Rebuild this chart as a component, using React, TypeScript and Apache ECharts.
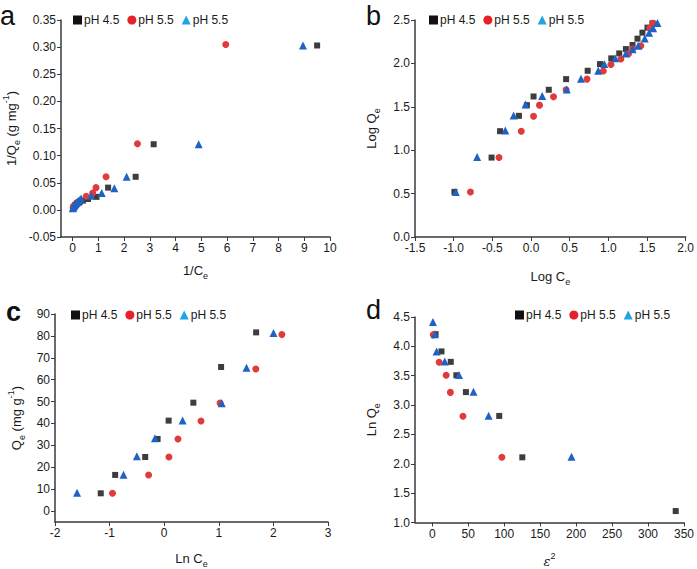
import React, { useEffect, useRef } from "react";
import * as echarts from "echarts";

const seriesNames = ["pH 4.5", "pH 5.5", "pH 5.5 "];

// Panel a: 1/Ce vs 1/Qe
const aPH45: number[][] = [[0.02,0.004],[0.05,0.006],[0.1,0.009],[0.18,0.012],[0.27,0.014],[0.4,0.017],[0.6,0.02],[0.93,0.024],[1.38,0.041],[2.45,0.061],[3.15,0.121],[9.5,0.303]];
const aPH55: number[][] = [[0.02,0.004],[0.06,0.007],[0.1,0.01],[0.16,0.013],[0.25,0.016],[0.53,0.025],[0.78,0.031],[0.91,0.041],[1.3,0.061],[2.52,0.122],[5.95,0.305]];
const aPH55b: number[][] = [[0.01,0.003],[0.03,0.005],[0.05,0.007],[0.08,0.009],[0.11,0.011],[0.15,0.013],[0.2,0.015],[0.26,0.018],[0.33,0.021],[0.72,0.026],[1.13,0.031],[1.62,0.04],[2.1,0.061],[4.9,0.121],[8.95,0.303]];

// Panel b: Log Ce vs Log Qe
const bPH45: number[][] = [[-0.99,0.52],[-0.51,0.915],[-0.4,1.219],[-0.156,1.396],[-0.053,1.519],[0.033,1.619],[0.23,1.696],[0.454,1.819],[0.733,1.915],[0.892,1.992],[1.038,2.058],[1.141,2.115],[1.227,2.165],[1.313,2.212],[1.377,2.285],[1.441,2.354],[1.506,2.412],[1.57,2.462]];
const bPH55: number[][] = [[-0.783,0.519],[-0.414,0.915],[-0.126,1.219],[0.033,1.392],[0.11,1.519],[0.291,1.615],[0.454,1.696],[0.724,1.819],[0.935,1.912],[1.034,1.988],[1.162,2.05],[1.261,2.112],[1.313,2.165],[1.42,2.204],[1.536,2.408],[1.579,2.462]];
const bPH55b: number[][] = [[-0.972,0.519],[-0.697,0.923],[-0.332,1.227],[-0.225,1.4],[-0.07,1.527],[0.145,1.623],[0.462,1.7],[0.647,1.823],[0.87,1.915],[0.948,1.992],[1.089,2.058],[1.227,2.115],[1.313,2.162],[1.386,2.204],[1.471,2.288],[1.527,2.354],[1.579,2.404],[1.635,2.465]];

// Panel c: Ln Ce vs Qe
const cPH45: number[][] = [[-1.162,8.1],[-0.898,16.5],[-0.348,24.7],[-0.121,32.9],[0.081,41.3],[0.534,49.5],[1.042,65.8],[1.684,81.6]];
const cPH55: number[][] = [[-0.947,8.1],[-0.286,16.5],[0.087,24.7],[0.252,32.9],[0.674,41.1],[1.023,49.3],[1.678,64.9],[2.155,80.6]];
const cPH55b: number[][] = [[-1.596,8.4],[-0.745,16.6],[-0.501,25.0],[-0.17,33.2],[0.338,41.4],[1.054,49.2],[1.507,65.5],[2.002,81.3]];

// Panel d: epsilon^2 vs Ln Qe
const dPH45: number[][] = [[4.6,4.207],[12.8,3.914],[25.7,3.736],[33.5,3.508],[46.8,3.221],[93.1,2.815],[125.2,2.11],[338.5,1.195]];
const dPH55: number[][] = [[1.4,4.196],[9.6,3.73],[19.3,3.508],[25.2,3.216],[42.7,2.81],[96.8,2.11]];
const dPH55b: number[][] = [[0.9,4.413],[3.7,4.207],[6.0,3.914],[17.4,3.741],[37.2,3.514],[57.3,3.226],[78.4,2.82],[193.6,2.121]];

const aXTicks = [0,1,2,3,4,5,6,7,8,9,10];
const cYTicks = [0,10,20,30,40,50,60,70,80,90];
const dXTicks = [0,50,100,150,200,250,300,350];

const FONT = "Liberation Sans, Arial, sans-serif";
const AXIS_COLOR = "#3a3a3a";
const LABEL_COLOR = "#1a1a1a";
const dataColors = ["#3d3d3d", "#e03a3a", "#1f62c6"];
const legendColors = ["#111111", "#e8202a", "#1ea3e4"];
const symbols = ["rect", "circle", "triangle"];
const symbolSizes = [6, 7, 8];

const rich = {
  n: { fontSize: 13, lineHeight: 20, fontFamily: FONT, color: LABEL_COLOR, verticalAlign: "middle" },
  sub: { fontSize: 9, lineHeight: 9, fontFamily: FONT, color: LABEL_COLOR, verticalAlign: "bottom" },
  sup: { fontSize: 9, lineHeight: 9, fontFamily: FONT, color: LABEL_COLOR, verticalAlign: "top" },
  eps: { fontSize: 13, lineHeight: 20, fontFamily: "DejaVu Serif, serif", fontStyle: "italic", color: LABEL_COLOR, verticalAlign: "middle" },
};

function baseAxis(extra: any) {
  return {
    type: "value",
    splitLine: { show: false },
    axisLine: { show: true, onZero: false, lineStyle: { color: AXIS_COLOR, width: 1.5 } },
    axisTick: { show: true, length: 4, lineStyle: { color: AXIS_COLOR, width: 1 } },
    axisLabel: { color: LABEL_COLOR, fontSize: 12, fontFamily: FONT, margin: 5 },
    nameLocation: "middle",
    nameTextStyle: { rich },
    ...extra,
  };
}

export default function App() {
  const ref = useRef<HTMLDivElement>(null);
  useEffect(() => {
    if (!ref.current) return;
    const chart = echarts.init(ref.current, undefined, { renderer: "svg" });

    const grids = [
      { left: 58, top: 20, width: 272, height: 217 },
      { left: 415, top: 20, width: 271, height: 217 },
      { left: 55, top: 314, width: 273, height: 216 },
      { left: 415, top: 317, width: 271, height: 215 },
    ];

    const xAxes = [
      baseAxis({
        gridIndex: 0, min: -0.45, max: 10,
        axisLabel: { color: LABEL_COLOR, fontSize: 12, fontFamily: FONT, margin: 5, customValues: aXTicks },
        axisTick: { show: true, length: 4, customValues: aXTicks, lineStyle: { color: AXIS_COLOR } },
        name: "{n|1/C}{sub|e}", nameGap: 23,
      }),
      baseAxis({
        gridIndex: 1, min: -1.5, max: 2, interval: 0.5,
        axisLabel: { color: LABEL_COLOR, fontSize: 12, fontFamily: FONT, margin: 5, formatter: (v: number) => v.toFixed(1) },
        name: "{n|Log C}{sub|e}", nameGap: 29,
      }),
      baseAxis({
        gridIndex: 2, min: -2, max: 3, interval: 1,
        name: "{n|Ln C}{sub|e}", nameGap: 26,
      }),
      baseAxis({
        gridIndex: 3, min: -24, max: 350,
        axisLabel: { color: LABEL_COLOR, fontSize: 12, fontFamily: FONT, margin: 5, customValues: dXTicks },
        axisTick: { show: true, length: 4, customValues: dXTicks, lineStyle: { color: AXIS_COLOR } },
        name: "{eps|ε}{sup|2}", nameGap: 29,
      }),
    ];

    const yAxes = [
      baseAxis({
        gridIndex: 0, min: -0.05, max: 0.35, interval: 0.05,
        axisLabel: { color: LABEL_COLOR, fontSize: 12, fontFamily: FONT, margin: 5, formatter: (v: number) => v.toFixed(2) },
        name: "{n|1/Q}{sub|e}{n| (g mg}{sup|-1}{n|)}", nameGap: 40,
      }),
      baseAxis({
        gridIndex: 1, min: 0, max: 2.5, interval: 0.5,
        axisLabel: { color: LABEL_COLOR, fontSize: 12, fontFamily: FONT, margin: 5, formatter: (v: number) => v.toFixed(1) },
        name: "{n|Log Q}{sub|e}", nameGap: 34,
      }),
      baseAxis({
        gridIndex: 2, min: -5, max: 90,
        axisLabel: { color: LABEL_COLOR, fontSize: 12, fontFamily: FONT, margin: 5, customValues: cYTicks },
        axisTick: { show: true, length: 4, customValues: cYTicks, lineStyle: { color: AXIS_COLOR } },
        name: "{n|Q}{sub|e}{n| (mg g}{sup|-1}{n|)}", nameGap: 29,
      }),
      baseAxis({
        gridIndex: 3, min: 1, max: 4.5, interval: 0.5,
        axisLabel: { color: LABEL_COLOR, fontSize: 12, fontFamily: FONT, margin: 5, formatter: (v: number) => v.toFixed(1) },
        name: "{n|Ln Q}{sub|e}", nameGap: 34,
      }),
    ];

    const panelData = [
      [aPH45, aPH55, aPH55b],
      [bPH45, bPH55, bPH55b],
      [cPH45, cPH55, cPH55b],
      [dPH45, dPH55, dPH55b],
    ];

    const series: any[] = [];
    panelData.forEach((sets, p) => {
      sets.forEach((data, k) => {
        series.push({
          type: "scatter",
          name: seriesNames[k],
          xAxisIndex: p,
          yAxisIndex: p,
          data,
          symbol: symbols[k],
          symbolSize: symbolSizes[k],
          itemStyle: { color: dataColors[k], opacity: 1 },
          emphasis: { disabled: true },
        });
      });
    });

    const legendPos = [
      { left: 73, top: 14 },
      { left: 429, top: 14 },
      { left: 71, top: 309 },
      { left: 515, top: 309 },
    ];
    const legends = legendPos.map((pos) => ({
      ...pos,
      orient: "horizontal",
      padding: 0,
      itemGap: 8,
      itemWidth: 9,
      itemHeight: 9,
      selectedMode: false,
      textStyle: { fontSize: 12, fontFamily: FONT, color: LABEL_COLOR, padding: [0, 0, 0, -3] },
      data: seriesNames.map((name, k) => ({
        name,
        icon: symbols[k],
        itemStyle: { color: legendColors[k] },
      })),
    }));

    const letters = [
      { text: "a", x: 0, y: 2, bold: "normal" },
      { text: "b", x: 366, y: 2, bold: "normal" },
      { text: "c", x: 6, y: 298, bold: "bold" },
      { text: "d", x: 366, y: 296, bold: "normal" },
    ];

    chart.setOption({
      animation: false,
      backgroundColor: "#ffffff",
      grid: grids,
      xAxis: xAxes,
      yAxis: yAxes,
      legend: legends,
      series,
      graphic: letters.map((l) => ({
        type: "text",
        left: l.x,
        top: l.y,
        style: { text: l.text, fontSize: 27, fontWeight: l.bold, fontFamily: FONT, fill: "#111" },
      })),
    });
    return () => chart.dispose();
  }, []);

  return (
    <div
      ref={ref}
      style={{ position: "fixed", left: 0, top: 0, width: 697, height: 569, background: "#fff" }}
    />
  );
}
